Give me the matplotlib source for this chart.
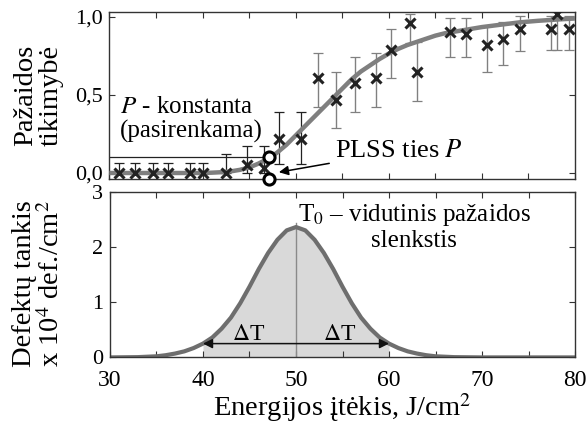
import numpy as np
import matplotlib
matplotlib.use("Agg")
import matplotlib.pyplot as plt
from matplotlib.ticker import MultipleLocator

plt.rcParams['font.family'] = ['Liberation Serif', 'DejaVu Serif']
plt.rcParams['mathtext.fontset'] = 'stix'

# measured points (top panel)
meas_x = [31.0, 32.7, 34.7, 36.3, 38.7, 40.1, 42.5, 44.8, 46.6, 48.2, 50.6, 52.4, 54.3,
          56.4, 58.6, 60.2, 62.3, 63.0, 66.6, 68.3, 70.5, 72.3, 74.1, 77.4, 78.1, 79.4]
meas_y = [0.0, 0.0, 0.0, 0.0, 0.0, 0.0, 0.0, 0.05, 0.03, 0.22, 0.22, 0.61, 0.47,
          0.575, 0.61, 0.79, 0.96, 0.65, 0.905, 0.89, 0.82, 0.86, 0.92, 0.92, 1.02, 0.92]
meas_lo = [0.0, 0.0, 0.0, 0.0, 0.0, 0.0, 0.0, 0.0, 0.0, 0.06, 0.06, 0.42, 0.29,
           0.39, 0.42, 0.61, 0.83, 0.46, 0.74, 0.74, 0.65, 0.69, 0.78, 0.79, 0.79, 0.79]
meas_hi = [0.066, 0.066, 0.066, 0.066, 0.066, 0.066, 0.12, 0.17, 0.17, 0.39, 0.39, 0.77, 0.65,
           0.745, 0.77, 0.92, 1.02, 0.84, 0.99, 0.99, 0.945, 0.97, 1.006, 1.006, 1.03, 1.006]

# fitted probability curve
fit_x = [30, 35, 38, 40, 41, 42, 43, 44, 45, 46, 47, 48, 49, 50, 51, 52, 53, 54, 55, 56,
         57, 58, 59, 60, 61, 62, 63, 64, 65, 66, 68, 70, 72, 74, 76, 78, 80]
fit_y = [0.0, 0.0, 0.0, 0.0, 0.002, 0.005, 0.01, 0.02, 0.035, 0.06, 0.09, 0.13, 0.18, 0.24,
         0.30, 0.36, 0.42, 0.48, 0.54, 0.60, 0.65, 0.69, 0.73, 0.765, 0.795, 0.82, 0.84,
         0.86, 0.88, 0.895, 0.915, 0.935, 0.95, 0.965, 0.975, 0.983, 0.99]

# defect density (bottom panel)
dens_x = [30, 33, 35, 36, 37, 38, 39, 40, 41, 42, 43, 44, 45, 46, 47, 48, 49, 50,
          51, 52, 53, 54, 55, 56, 57, 58, 59, 60, 61, 62, 63, 64, 65, 67, 70, 80]
dens_y = [0.0, 0.005, 0.02, 0.04, 0.07, 0.11, 0.17, 0.25, 0.36, 0.52, 0.72, 0.98, 1.28, 1.60,
          1.89, 2.13, 2.30, 2.36, 2.30, 2.13, 1.89, 1.60, 1.28, 0.98, 0.72, 0.52, 0.36, 0.25,
          0.17, 0.11, 0.07, 0.04, 0.02, 0.005, 0.0, 0.0]

P_level = 0.1
P_x = 47.1
T0 = 50
dT_lo, dT_hi = 40, 60

fig = plt.figure(figsize=(5.88, 4.26), dpi=100)
ax1 = fig.add_axes([0.186, 0.580, 0.792, 0.392])
ax2 = fig.add_axes([0.187, 0.161, 0.791, 0.389])

edge = '#333333'
for ax in (ax1, ax2):
    for s in ax.spines.values():
        s.set_color(edge)
        s.set_linewidth(1.0)
    ax.set_xlim(30, 80)
    ax.xaxis.set_major_locator(MultipleLocator(10))
    ax.xaxis.set_minor_locator(MultipleLocator(5))
    ax.tick_params(which='both', direction='in', top=True, right=True, length=4,
                   width=0.8, color=edge, labelsize=17, pad=5)
    ax.tick_params(axis='x', pad=9)
    ax.tick_params(axis='y', labelsize=16)

# top panel
x = np.array(meas_x)
y = np.array(meas_y)
lo = y - np.array(meas_lo)
hi = np.array(meas_hi) - y
n = 11
ax1.errorbar(x[:n], y[:n], yerr=[lo[:n], hi[:n]], fmt='none', ecolor='#222222',
             elinewidth=0.9, capsize=3.5, capthick=0.9)
ax1.errorbar(x[n:], y[n:], yerr=[lo[n:], hi[n:]], fmt='none', ecolor='#808080',
             elinewidth=1.0, capsize=3.5, capthick=0.9)
ax1.plot(fit_x, fit_y, color='#7f7f7f', lw=3.2, solid_capstyle='butt', zorder=3)
ax1.plot(x, y, 'x', color='#222222', ms=7, mew=2.2, zorder=4)
ax1.plot([30, P_x], [P_level, P_level], color='#222222', lw=0.9, zorder=2)
ax1.plot([P_x, P_x], [P_level, -0.038], 'o', ms=8, mfc='white', mec='black', mew=2.2,
         clip_on=False, zorder=5)
ax1.set_ylim(-0.038, 1.032)
ax1.set_yticks([0, 0.5, 1.0])
ax1.set_yticklabels(['0,0', '0,5', '1,0'])
ax1.tick_params(axis='x', labelbottom=False)
ax1.text(31.1, 0.345, '$P$ - konstanta\n(pasirenkama)', fontsize=18, va='center',
         ha='left', linespacing=1.1)
ax1.annotate('PLSS ties $P$', xy=(48.2, 0.005), xytext=(54.2, 0.14), fontsize=19,
             va='center', ha='left',
             arrowprops=dict(arrowstyle='-|>', color='black', lw=1.1,
                             mutation_scale=14, shrinkA=2, shrinkB=0))

# bottom panel
dx = np.array(dens_x)
dy = np.array(dens_y)
mask = (dx >= dT_lo) & (dx <= dT_hi)
ax2.fill_between(dx[mask], 0, dy[mask], color='#d9d9d9', lw=0)
ax2.plot([T0, T0], [0, 2.43], color='#8a8a8a', lw=1.0)
ax2.plot(dx, dy, color='#6e6e6e', lw=3.0)
ax2.annotate('', xy=(dT_lo, 0.25), xytext=(dT_hi, 0.25),
             arrowprops=dict(arrowstyle='<|-|>', color='#111111', lw=1.1,
                             mutation_scale=14, shrinkA=0, shrinkB=0))
ax2.text(44.9, 0.31, r'$\Delta$T', fontsize=17, ha='center', va='baseline')
ax2.text(54.7, 0.31, r'$\Delta$T', fontsize=17, ha='center', va='baseline')
ax2.text(62.7, 2.36, 'T$_0$ – vidutinis pažaidos\nslenkstis', fontsize=18,
         ha='center', va='center', linespacing=1.15)
ax2.set_ylim(0, 3)
ax2.set_yticks([0, 1, 2, 3])
ax2.set_xlabel('Energijos įtėkis, J/cm$^2$', fontsize=20.5, labelpad=0)

fig.text(0.065, 0.777, 'Pažaidos\ntikimybė', rotation=90, fontsize=20.5,
         ha='center', va='center', linespacing=1.05)
fig.text(0.065, 0.334, 'Defektų tankis\nx 10$^4$ def./cm$^2$', rotation=90, fontsize=20.5,
         ha='center', va='center', linespacing=1.05)

fig.savefig('out.png', dpi=100)
